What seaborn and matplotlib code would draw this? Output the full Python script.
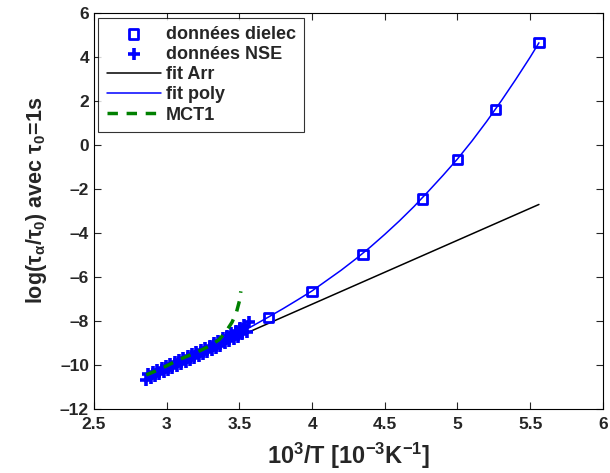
import numpy as np
import pandas as pd
import matplotlib
matplotlib.use('Agg')
import matplotlib.pyplot as plt
from matplotlib.ticker import FuncFormatter
import seaborn as sns

# dielectric data
dielec_x = [3.70, 4.00, 4.35, 4.76, 5.00, 5.26, 5.56]
dielec_y = [-7.85, -6.65, -4.97, -2.45, -0.65, 1.62, 4.65]

# NSE data (two staggered q-sets)
nse_x_low = [2.86, 2.89, 2.92, 2.95, 2.98, 3.01, 3.04, 3.07, 3.10, 3.13, 3.16, 3.19,
             3.22, 3.25, 3.28, 3.31, 3.34, 3.37, 3.40, 3.43, 3.46, 3.49, 3.52, 3.55]
nse_y_low = [-10.68, -10.59, -10.50, -10.42, -10.33, -10.24, -10.15, -10.06, -9.97,
             -9.88, -9.78, -9.69, -9.60, -9.50, -9.41, -9.32, -9.22, -9.12, -9.02,
             -8.92, -8.82, -8.71, -8.61, -8.50]
nse_x_high = [2.875, 2.905, 2.935, 2.965, 2.995, 3.025, 3.055, 3.085, 3.115, 3.145,
              3.175, 3.205, 3.235, 3.265, 3.295, 3.325, 3.355, 3.385, 3.415, 3.445,
              3.475, 3.505, 3.535, 3.565]
nse_y_high = [-10.39, -10.30, -10.21, -10.12, -10.04, -9.95, -9.86, -9.77, -9.68,
              -9.58, -9.49, -9.40, -9.30, -9.21, -9.12, -9.01, -8.90, -8.79, -8.68,
              -8.56, -8.45, -8.32, -8.19, -8.05]

# Arrhenius fit
arr_x = [2.86, 5.56]
arr_y = [-10.55, -2.70]

# polynomial fit
poly_x = [2.86, 3.0, 3.1, 3.2, 3.3, 3.4, 3.5, 3.6, 3.7, 3.8, 3.9, 4.0, 4.1, 4.2,
          4.3, 4.4, 4.5, 4.6, 4.7, 4.8, 4.9, 5.0, 5.1, 5.2, 5.3, 5.4, 5.5, 5.56]
poly_y = [-10.55, -10.14, -9.84, -9.53, -9.22, -8.89, -8.55, -8.19, -7.82, -7.44,
          -7.04, -6.63, -6.16, -5.69, -5.18, -4.64, -4.06, -3.45, -2.80, -2.10,
          -1.38, -0.63, 0.19, 1.07, 2.00, 2.98, 4.00, 4.65]

# MCT fit
mct_x = [2.86, 2.95, 3.08, 3.21, 3.30, 3.36, 3.41, 3.45, 3.48, 3.50, 3.51]
mct_y = [-10.45, -10.2, -9.77, -9.41, -9.12, -8.85, -8.46, -8.05, -7.6, -7.1, -6.65]

sns.set_style('ticks')
plt.rcParams['font.family'] = ['Liberation Sans', 'DejaVu Sans']
plt.rcParams['font.weight'] = 'bold'
plt.rcParams['mathtext.fontset'] = 'custom'
plt.rcParams['mathtext.rm'] = 'Liberation Sans:bold'
plt.rcParams['mathtext.it'] = 'Liberation Sans:bold'
plt.rcParams['mathtext.bf'] = 'Liberation Sans:bold'
plt.rcParams['mathtext.default'] = 'rm'

fig = plt.figure(figsize=(6.1, 4.73), dpi=100)
ax = fig.add_axes([0.154, 0.1353, 0.8344, 0.837])

nse_df = pd.DataFrame({'x': nse_x_low + nse_x_high, 'y': nse_y_low + nse_y_high})

sns.scatterplot(x=dielec_x, y=dielec_y, ax=ax, marker='s', s=45,
                facecolor='none', edgecolor='#0000ff', linewidth=2,
                label='donn\u00e9es dielec', zorder=4)
sns.scatterplot(data=nse_df, x='x', y='y', ax=ax, marker='+', s=70,
                color='#0000ff', linewidth=2.6, label='donn\u00e9es NSE', zorder=3)
sns.lineplot(x=arr_x, y=arr_y, ax=ax, color='black', linewidth=1.1,
             label='fit Arr', sort=False, estimator=None, zorder=2)
sns.lineplot(x=poly_x, y=poly_y, ax=ax, color='#0000ff', linewidth=1.1,
             label='fit poly', sort=False, estimator=None, zorder=2)
sns.lineplot(x=mct_x, y=mct_y, ax=ax, color='#008000', linewidth=2.5,
             linestyle=(0, (3, 2.5)), label='MCT1', sort=False,
             estimator=None, zorder=5)

ax.set_xlim(2.5, 6)
ax.set_ylim(-12, 6)
ax.set_xticks(np.arange(2.5, 6.01, 0.5))
ax.set_yticks(np.arange(-12, 6.1, 2))
fmt = FuncFormatter(lambda v, p: ('%g' % v).replace('-', '\u2013'))
ax.xaxis.set_major_formatter(fmt)
ax.yaxis.set_major_formatter(fmt)
ax.tick_params(direction='in', top=True, right=True, length=5, width=0.8,
               labelsize=12.5)
ax.tick_params(axis='x', pad=6)
ax.tick_params(axis='y', pad=3.5)
for lab in ax.get_xticklabels() + ax.get_yticklabels():
    lab.set_fontweight('bold')
for sp in ax.spines.values():
    sp.set_linewidth(0.8)
    sp.set_color('black')

ax.set_xlabel(r'10$^{3}$/T [10$^{-3}$K$^{-1}$]', fontsize=17,
              fontweight='bold', labelpad=6)
ax.set_ylabel(r'log($\tau_{\alpha}$/$\tau_{0}$) avec $\tau_{0}$=1s', fontsize=15.5,
              fontweight='bold', labelpad=8)
ax.yaxis.label.set_y(0.528)

leg = ax.legend(loc='upper left', frameon=True, fancybox=False, fontsize=13,
                handlelength=3.0, borderpad=0.45, labelspacing=0.18,
                handletextpad=0.3, borderaxespad=0.25)
leg.get_frame().set_edgecolor('black')
leg.get_frame().set_linewidth(0.8)
for t in leg.get_texts():
    t.set_fontweight('bold')

fig.savefig('out.png', dpi=100)
